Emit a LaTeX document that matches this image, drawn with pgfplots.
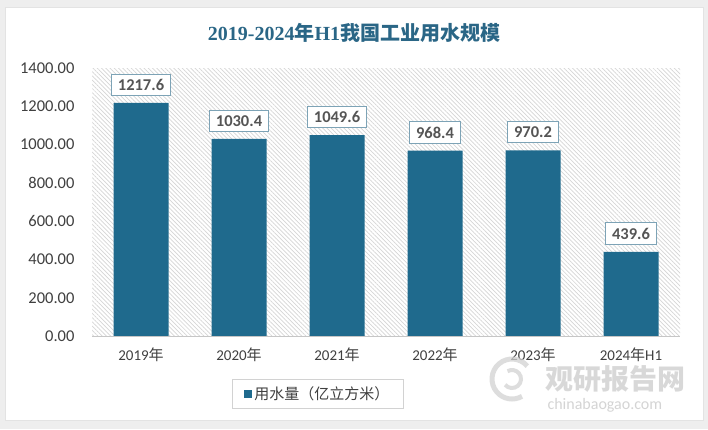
\documentclass[border=0pt]{standalone}
\usepackage{fontspec}
\usepackage{pgfplots}
\pgfplotsset{compat=1.18}
\usetikzlibrary{patterns.meta}
\setmainfont{Carlito}
\newfontfamily\cjk{Noto Sans CJK SC}
\newfontfamily\tserif{Liberation Serif}
\definecolor{barblue}{RGB}{31,106,141}
\definecolor{titleblue}{RGB}{42,102,134}
\definecolor{lblborder}{RGB}{125,163,182}
\definecolor{txtgray}{RGB}{64,64,64}
\definecolor{lbltext}{RGB}{85,85,85}
\definecolor{hatch}{RGB}{214,214,214}
\begin{document}
\begin{tikzpicture}[x=1pt,y=1pt]
\fill[gray!13] (0,0) rectangle (708,429);
\fill[white] (5,9) rectangle (703,422);
\draw[gray!22, line width=0.8pt] (5,9) rectangle (703,422);
\node[text=titleblue, font=\fontsize{20}{22}\selectfont] at (354,396)
  {\tserif\bfseries 2019-2024\cjk\bfseries 年\tserif\bfseries H1\cjk\bfseries 我国工业用水规模};
\begin{axis}[
  at={(92pt,93pt)}, anchor=south west,
  scale only axis, width=588pt, height=268pt,
  xmin=-0.5, xmax=5.5, ymin=0, ymax=1400,
  ytick={0,200,...,1400},
  xtick={0,...,5},
  xticklabels={2019{\cjk 年},2020{\cjk 年},2021{\cjk 年},2022{\cjk 年},2023{\cjk 年},2024{\cjk 年}H1},
  axis line style={draw=none},
  tick style={draw=none},
  axis background/.style={pattern={Lines[angle=135,distance=3pt,line width=0.7pt]}, pattern color=hatch},
  /pgf/number format/assume math mode=true,
  yticklabel={\pgfmathprintnumber[fixed,precision=2,zerofill,1000 sep={}]{\tick}},
  yticklabel style={font=\fontsize{16.5}{18}\selectfont, text=txtgray, xshift=-14pt},
  xticklabel style={font=\fontsize{15}{18}\selectfont, text=txtgray, yshift=-8pt},
  legend style={at={(0.384,-0.216)}, anchor=center, draw=gray!35, line width=0.8pt,
    inner xsep=12pt, inner ysep=5pt,
    font=\cjk\fontsize{15}{18}\selectfont, text=txtgray},
  clip=false,
]
\addplot[ybar, fill=barblue, draw=none, bar width=55pt,
  legend image code/.code={\fill[barblue] (0pt,-4pt) rectangle (8pt,4pt);},
  nodes near coords={\pgfmathprintnumber[fixed,precision=1,zerofill,1000 sep={},assume math mode=true]{\pgfplotspointmeta}},
  every node near coord/.append style={fill=white, draw=lblborder, line width=1pt,
    inner xsep=6.5pt, inner ysep=5pt, anchor=south, yshift=7pt,
    font=\bfseries\fontsize{16.5}{17}\selectfont, text=lbltext},
] coordinates {(0,1217.6) (1,1030.4) (2,1049.6) (3,968.4) (4,970.2) (5,439.6)};
\addlegendentry{用水量（亿立方米）}
\draw[gray!45, line width=1pt] (rel axis cs:0,0) -- (rel axis cs:1,0);
\end{axis}
% watermark
\begin{scope}[opacity=0.75]
\draw[gray!35, line width=5pt] (512,50) ++(40:20) arc (40:300:20);
\draw[gray!35, line width=4pt] (512,50) ++(220:9) arc (220:480:9);
\node[anchor=west, text=gray!40, font=\cjk\bfseries\fontsize{28}{29}\selectfont] at (542,50) {观研报告网};
\node[anchor=west, text=gray!45, font=\fontsize{16}{17}\selectfont] at (544,24) {chinabaogao.com};
\end{scope}
\end{tikzpicture}
\end{document}
